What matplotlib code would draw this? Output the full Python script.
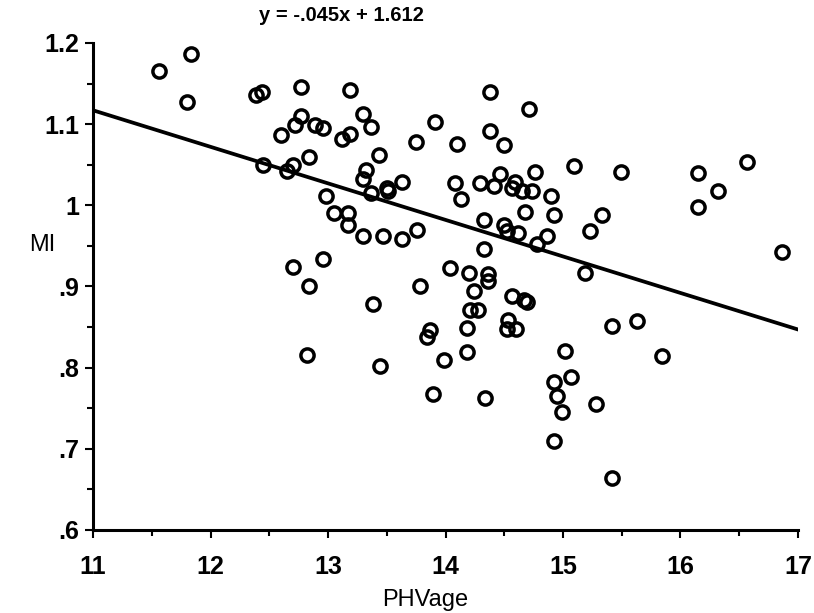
import matplotlib
matplotlib.use("Agg")
import matplotlib.pyplot as plt
import numpy as np

plt.rcParams['font.family'] = ['Liberation Sans', 'DejaVu Sans']

# PHVage vs MI
phv_age = [11.56, 11.83, 11.80, 12.39, 12.44, 12.77, 13.19, 12.77, 12.72, 12.60,
           12.89, 12.96, 13.30, 13.37, 13.19, 13.12, 13.75, 13.91, 12.45, 12.70,
           12.65, 12.84, 13.43, 13.32, 13.30, 13.37, 13.50, 13.51, 13.63, 12.98,
           13.05, 13.17, 13.17, 13.30, 13.47, 13.63, 13.76, 12.70, 12.96, 12.84,
           13.78, 14.38, 14.71, 14.10, 14.38, 14.50, 14.08, 14.13, 14.29, 14.41,
           14.46, 14.59, 14.57, 14.65, 14.74, 14.76, 14.90, 14.92, 14.68, 15.09,
           15.49, 15.33, 15.23, 16.15, 16.32, 16.15, 16.57, 16.86, 14.33, 14.50,
           14.52, 14.62, 14.86, 14.78, 14.33, 15.19, 14.04, 14.20, 14.36, 14.36,
           13.38, 14.24, 14.21, 14.28, 14.57, 14.67, 14.69, 14.53, 14.52, 14.60,
           14.18, 13.87, 13.84, 12.82, 13.44, 13.99, 14.18, 13.89, 14.34, 15.02,
           15.42, 15.63, 15.84, 15.07, 14.92, 14.95, 14.99, 15.28, 14.92, 15.42]
mi = [1.166, 1.186, 1.127, 1.136, 1.139, 1.146, 1.142, 1.110, 1.099, 1.086,
      1.099, 1.095, 1.113, 1.096, 1.088, 1.082, 1.078, 1.102, 1.049, 1.049,
      1.042, 1.059, 1.062, 1.043, 1.032, 1.015, 1.021, 1.018, 1.029, 1.012,
      0.990, 0.990, 0.976, 0.962, 0.962, 0.959, 0.969, 0.924, 0.934, 0.901,
      0.901, 1.140, 1.118, 1.075, 1.091, 1.074, 1.028, 1.008, 1.028, 1.024,
      1.038, 1.029, 1.021, 1.017, 1.018, 1.041, 1.012, 0.988, 0.992, 1.048,
      1.041, 0.988, 0.968, 1.040, 1.017, 0.998, 1.053, 0.943, 0.982, 0.976,
      0.968, 0.966, 0.962, 0.952, 0.946, 0.917, 0.923, 0.917, 0.915, 0.907,
      0.878, 0.894, 0.871, 0.871, 0.888, 0.883, 0.881, 0.859, 0.848, 0.848,
      0.849, 0.846, 0.838, 0.815, 0.802, 0.809, 0.819, 0.768, 0.762, 0.821,
      0.851, 0.858, 0.814, 0.789, 0.782, 0.765, 0.745, 0.755, 0.710, 0.664]

slope = -0.045
intercept = 1.612

fig = plt.figure(figsize=(8.14, 6.13), dpi=100)
ax = fig.add_axes([0.1143, 0.1354, 0.8660, 0.7946])

ax.plot(phv_age, mi, 'o', mfc='none', mec='black', ms=9.5, mew=2.5, zorder=3)
fit_x = np.array([11, 17])
ax.plot(fit_x, slope * fit_x + intercept, color='black', lw=2.7, zorder=2)

ax.set_xlim(11, 17)
ax.set_ylim(0.6, 1.2)
ax.set_xticks(np.arange(11, 18, 1))
ax.set_xticks(np.arange(11.5, 17, 1), minor=True)
ax.set_yticks(np.arange(0.6, 1.21, 0.1))
ax.set_yticks(np.arange(0.65, 1.2, 0.1), minor=True)
ax.set_xticklabels([str(v) for v in range(11, 18)])
ax.set_yticklabels(['.6', '.7', '.8', '.9', '1', '1.1', '1.2'])

for s in ['top', 'right']:
    ax.spines[s].set_visible(False)
for s in ['left', 'bottom']:
    ax.spines[s].set_linewidth(2.2)

ax.tick_params(axis='x', which='major', pad=12)
ax.tick_params(axis='y', which='major', pad=4)
ax.tick_params(which='major', direction='out', length=6, width=1.5,
               labelsize=18)
ax.tick_params(which='minor', direction='out', length=4, width=1.5)
for lab in ax.get_xticklabels() + ax.get_yticklabels():
    lab.set_fontweight('semibold')

ax.set_xlabel('PHVage', fontsize=17, va='center')
ax.xaxis.set_label_coords(0.471, -0.143)
ax.set_ylabel('MI', fontsize=17, rotation=0, va='center', ha='center')
ax.yaxis.set_label_coords(-0.072, 0.585)
fig.text(0.419, 0.974, 'y = -.045x + 1.612', fontsize=14.5, fontweight='bold',
         ha='center', va='center')

fig.savefig('out.png', dpi=100)
